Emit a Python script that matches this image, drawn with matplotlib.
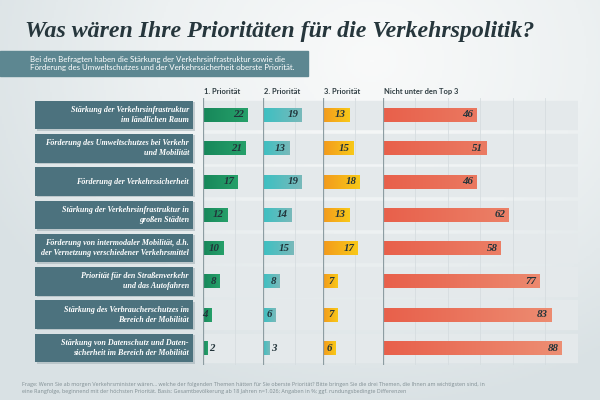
import numpy as np
import matplotlib
matplotlib.use("Agg")
import matplotlib.pyplot as plt
from matplotlib.colors import LinearSegmentedColormap

# data
categories = [
    "Stärkung der Verkehrsinfrastruktur\nim ländlichen Raum",
    "Förderung des Umweltschutzes bei Verkehr\nund Mobilität",
    "Förderung der Verkehrssicherheit",
    "Stärkung der Verkehrsinfrastruktur in\ngroßen Städten",
    "Förderung von intermodaler Mobilität, d.h.\nder Vernetzung verschiedener Verkehrsmittel",
    "Priorität für den Straßenverkehr\nund das Autofahren",
    "Stärkung des Verbraucherschutzes im\nBereich der Mobilität",
    "Stärkung von Datenschutz und Daten-\nsicherheit im Bereich der Mobilität",
]
prio1 = [22, 21, 17, 12, 10, 8, 4, 2]
prio2 = [19, 13, 19, 14, 15, 8, 6, 3]
prio3 = [13, 15, 18, 13, 17, 7, 7, 6]
not_top3 = [46, 51, 46, 62, 58, 77, 83, 88]
headers = ["1. Priorität", "2. Priorität", "3. Priorität", "Nicht unter den Top 3"]

title = "Was wären Ihre Prioritäten für die Verkehrspolitik?"
subtitle = ("Bei den Befragten haben die Stärkung der Verkehrsinfrastruktur sowie die\n"
            "Förderung des Umweltschutzes und der Verkehrssicherheit oberste Priorität.")
footnote = ("Frage: Wenn Sie ab morgen Verkehrsminister wären… welche der folgenden Themen hätten für Sie "
            "oberste Priorität? Bitte bringen Sie die drei Themen, die Ihnen am wichtigsten sind, in\n"
            "eine Rangfolge, beginnend mit der höchsten Priorität. Basis: Gesamtbevölkerung ab 18 Jahren "
            "n=1.026; Angaben in %; ggf. rundungsbedingte Differenzen")

W, H = 600, 400
fig = plt.figure(figsize=(6, 4), dpi=100)

# background gradient
bg = fig.add_axes([0, 0, 1, 1])
xx, yy = np.meshgrid(np.linspace(0, 1, 300), np.linspace(0, 1, 200))
d = np.sqrt(((xx - 0.62) / 0.9) ** 2 + ((yy - 0.15) / 1.1) ** 2)
bg_cmap = LinearSegmentedColormap.from_list("bg", ["#f9fafa", "#edf1f2", "#d9e1e4"])
bg.imshow(d, cmap=bg_cmap, extent=[0, W, H, 0], aspect="auto", vmin=0, vmax=0.8)
bg.set_xlim(0, W)
bg.set_ylim(H, 0)
bg.axis("off")

serif = "Liberation Serif"
sans = "Lato"

bg.text(25, 31, title, fontsize=17.2, fontweight="bold", fontstyle="italic",
        family=serif, color="#26363c", va="center", ha="left")
bg.add_patch(plt.Rectangle((0, 51), 308, 25, color="#5d8791", zorder=2))
bg.text(30, 63.5, subtitle, fontsize=5.65, color="white", family=sans,
        va="center", ha="left", linespacing=1.3, zorder=3)
bg.text(22, 388, footnote, fontsize=3.9, color="#7f8d92", family="Open Sans",
        va="center", ha="left", linespacing=1.3)

# row geometry (pixels)
top, bottom = 98.3, 364.7
n = len(categories)
rows = np.arange(n)

def px_axes(x0, x1):
    return fig.add_axes([x0 / W, 1 - bottom / H, (x1 - x0) / W, (bottom - top) / H])

# label boxes
ax_lab = px_axes(35, 196)
ax_lab.barh(rows + 0.04, 1, height=0.86, left=0.012, color="#9aaab0", alpha=0.5)
ax_lab.barh(rows, 1, height=0.86, color="#4c727e")
for i, c in enumerate(categories):
    ax_lab.text(0.975, i, c, ha="right", va="center", color="white", fontsize=5.8,
                fontweight="bold", fontstyle="italic", family=serif, linespacing=1.35)
ax_lab.set_xlim(0, 1.02)
ax_lab.set_ylim(n - 0.5, -0.5)
ax_lab.axis("off")

scale = 2.03  # pixels per percent
panels = [
    (203, 263, prio1, ("#17875a", "#26a06a")),
    (263, 323, prio2, ("#3cc0c2", "#78b9ba")),
    (323, 383, prio3, ("#f39a1d", "#f8c818")),
    (383, 578, not_top3, ("#e8604b", "#ed8f74")),
]

for k, (x0, x1, vals, cols) in enumerate(panels):
    ax = px_axes(x0, x1)
    xmax = (x1 - x0) / scale
    for i in rows:
        ax.axhspan(i - 0.43, i + 0.43, color="#e4e9eb", zorder=0)
    for g in np.arange(16, xmax, 16):
        ax.axvline(g, color="#d6dde0", lw=0.6, zorder=0.5)
    ax.axvline(0, color="#8d9da2", lw=0.9, zorder=3)
    bars = ax.barh(rows, vals, height=0.42, color=cols[0], zorder=1)
    cm = LinearSegmentedColormap.from_list("g%d" % k, cols)
    grad = np.linspace(0, 1, 64).reshape(1, -1)
    for b, v in zip(bars, vals):
        bx, by, bw, bh = b.get_x(), b.get_y(), b.get_width(), b.get_height()
        frac = bw / 90.0 if k == 3 else 1.0
        ax.imshow(grad * frac, cmap=cm, vmin=0, vmax=1, extent=[bx, bx + bw, by + bh, by],
                  aspect="auto", zorder=1.5)
        inside = v >= 4
        ax.text(v - 1.6 if inside else v + 1.0, by + bh / 2, str(v),
                ha="right" if inside else "left", va="center",
                fontsize=7.8, fontweight="bold", fontstyle="italic", family=serif,
                color="#22343a", zorder=4)
    ax.set_ylim(n - 0.5, -0.5)
    ax.set_xlim(0, xmax)
    ax.axis("off")
    bg.text(x0 + 1, 91.5, headers[k], fontsize=5.4, fontweight="bold", family=sans,
            color="#2f3d42", ha="left", va="center")

fig.savefig("out.png", dpi=100)
